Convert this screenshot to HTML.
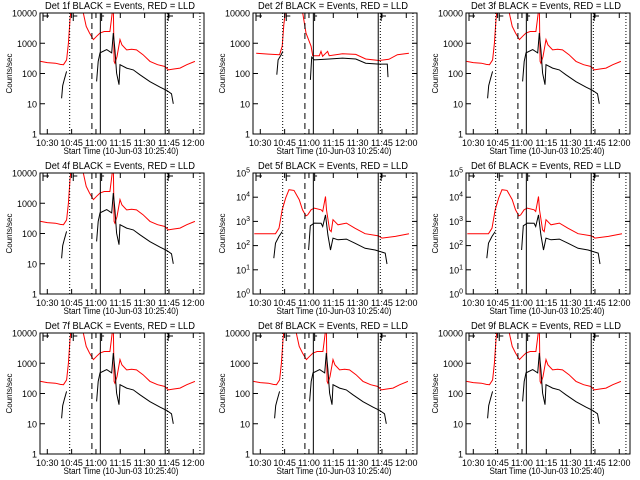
<!DOCTYPE html>
<html><head><meta charset="utf-8">
<style>
html,body{margin:0;padding:0;background:#fff;}
svg{display:block;font-family:"Liberation Sans",sans-serif;}
</style></head>
<body>
<svg id="chart" width="640" height="480" viewBox="0 0 640 480"></svg>
<script>
// time in minutes after 10:00, values are log10(counts/sec); null = gap
const xTickLabels = ["10:30","10:45","11:00","11:15","11:30","11:45","12:00"];
const xTickMinutes = [30,45,60,75,90,105,120];
const markerDotted = [43.8,104,124.1];
const markerDashed = [57.5];
const markerSolid = [62.7,102.7];
const panelTitles = ["Det 1f","Det 2f","Det 3f","Det 4f","Det 5f","Det 6f","Det 7f","Det 8f","Det 9f"];
const panelDecades = [4,4,4,4,5,5,4,4,4];

const redTimesA = [25.9,30,35,38,40,41.9,43,44,45,50,52.2,54,56,58.4,60.4,62.5,65,68.6,69.5,70.7,71.2,71.7,73,74.8,76,78.9,82,85,89,93.3,98,102.5,104.6,108,111.8,116,121];
const redValsA  = [2.40,2.36,2.34,2.3,2.29,2.45,3.0,3.78,4.3,4.5,4.0,3.56,3.34,3.12,3.23,3.34,3.39,3.39,3.78,4.3,2.4,2.34,2.56,3.12,2.95,2.78,2.8,2.78,2.62,2.4,2.29,2.23,2.12,2.15,2.18,2.29,2.40];
const blackTimesA = [38.8,39.5,40.5,41.9,42,60.4,61.4,62.5,66.6,69.7,70.7,71.7,72.7,74.2,74.8,78.9,83,87,93.3,99.4,103.6,106.6,107.7];
const blackValsA  = [1.18,1.6,1.8,2.07,null,1.74,2.40,2.68,2.79,2.68,3.34,2.79,2.01,1.63,2.29,2.18,2.12,1.96,1.73,1.55,1.44,1.33,1.0];

const redTimesB = [27.5,35,41.9,43.5,44.5,46,55.2,58.2,61.3,62.3,66.4,67.4,68.4,71.5,72.5,80.7,88.9,95,103.2,109.3,114.5,121.6];
const redValsB  = [2.67,2.64,2.62,2.9,3.6,4.3,4.3,3.34,2.9,2.59,2.59,2.73,2.57,2.73,2.59,2.65,2.63,2.48,2.43,2.47,2.62,2.67];
const blackTimesB = [40.2,41,42.9,43.9,44,60.9,61.7,63.3,72.5,80.7,88.9,95,103.2,108.3,108.7];
const blackValsB  = [1.96,2.45,2.62,2.73,null,1.79,2.54,2.45,2.48,2.51,2.48,2.34,2.31,2.31,1.88];

const redTimesC = [26.3,39.4,41.5,43.5,45.6,47.7,50.8,54,56,58.1,59.2,61.3,63.3,67.5,68.5,70.2,70.8,72.7,73.7,74.8,77.9,83.1,88.3,94.6,102.9,105,113.3,121.7];
const redValsC  = [2.49,2.49,2.72,3.48,3.96,4.31,4.28,3.9,3.48,3.23,3.27,3.48,3.55,3.48,3.41,4.03,3.48,2.65,2.58,3.07,2.86,2.93,2.72,2.49,2.4,2.31,2.38,2.49];
const blackTimesC = [38.3,39.4,41.5,43.5,43.6,59.8,60.8,63.3,67.5,68.5,70.2,71.7,73.3,74.8,77.9,83.1,88.3,94.6,100.8,107,108.1];
const blackValsC  = [1.48,2.1,2.38,2.58,null,1.82,2.82,2.93,2.92,2.79,3.27,2.44,1.82,2.31,2.24,2.27,2.1,1.89,1.82,1.69,1.24];

const panelRed = [[redTimesA,redValsA],[redTimesB,redValsB],[redTimesA,redValsA],[redTimesA,redValsA],[redTimesC,redValsC],[redTimesC,redValsC],[redTimesA,redValsA],[redTimesA,redValsA],[redTimesA,redValsA]];
const panelBlack = [[blackTimesA,blackValsA],[blackTimesB,blackValsB],[blackTimesA,blackValsA],[blackTimesA,blackValsA],[blackTimesC,blackValsC],[blackTimesC,blackValsC],[blackTimesA,blackValsA],[blackTimesA,blackValsA],[blackTimesA,blackValsA]];

const NS="http://www.w3.org/2000/svg";
const svg=document.getElementById('chart');
function mk(tag,attrs,parent){const e=document.createElementNS(NS,tag);for(const k in attrs)e.setAttribute(k,attrs[k]);(parent||svg).appendChild(e);return e;}

const L=40,R=204,T=13,B=134;
for(let p=0;p<9;p++){
  const ox=[0,213,426][p%3], oy=Math.floor(p/3)*160;
  const dec=panelDecades[p];
  const g=mk('g',{transform:`translate(${ox},${oy})`});
  
  
  const xs=m=>47.3+(m-30)*1.622;
  const ys=v=>B-(v/dec)*(B-T);
  const clip='clip'+p;
  const cp=mk('clipPath',{id:clip},g); mk('rect',{x:L,y:T,width:R-L,height:B-T},cp);
  function series(tv,color,name){
    const [ts,vs]=tv;let d='';let pen=false;
    for(let i=0;i<ts.length;i++){
      if(vs[i]===null){pen=false;continue;}
      d+=(pen?'L':'M')+xs(ts[i]).toFixed(1)+','+ys(vs[i]).toFixed(1);pen=true;
    }
    const path=mk('path',{d:d,fill:'none',stroke:color,'stroke-width':1,'clip-path':`url(#${clip})`},g);
    
    
  }
  series(panelRed[p],'#ff0000','lld-series');
  series(panelBlack[p],'#000','events-series');
  markerDotted.forEach(m=>{const l=mk('line',{x1:xs(m),x2:xs(m),y1:T,y2:B,stroke:'#000','stroke-dasharray':'1,2'},g);});
  markerDashed.forEach(m=>{const l=mk('line',{x1:xs(m),x2:xs(m),y1:T,y2:B,stroke:'#000','stroke-dasharray':'6,4'},g);});
  markerSolid.forEach(m=>{const l=mk('line',{x1:xs(m),x2:xs(m),y1:T,y2:B,stroke:'#000'},g);});
  [[43,49],[xs(46),xs(48.5)],[xs(63.5),xs(65)],[xs(104.5),xs(107.5)]].forEach(b=>{
    mk('path',{d:`M${b[1]},${T+3}H${b[0]}V${T+8}M${b[0]},${T+3}V${T}`,fill:'none',stroke:'#000'},g);
  });
  const fr=mk('rect',{x:L,y:T,width:R-L,height:B-T,fill:'none',stroke:'#000'},g);
  
  for(let k=0;k<=dec;k++){
    const y=ys(k);
    mk('line',{x1:L,x2:L+5,y1:y,y2:y,stroke:'#000'},g);
    mk('line',{x1:R-5,x2:R,y1:y,y2:y,stroke:'#000'},g);
    const t=mk('text',{x:L-3,y:y+3.5,'font-size':9,'text-anchor':'end'},g);
    
    if(dec===4){t.textContent=String(Math.pow(10,k));}
    else{t.textContent='10';const s=mk('tspan',{dy:-4,'font-size':7},t);s.textContent=String(k);}
  }
  xTickMinutes.forEach((m,i)=>{
    const x=xs(m);
    mk('line',{x1:x,x2:x,y1:B,y2:B-5,stroke:'#000'},g);
    mk('line',{x1:x,x2:x,y1:T,y2:T+5,stroke:'#000'},g);
    const t=mk('text',{x:x,y:B+12,'font-size':9,'text-anchor':'middle'},g);
    
    t.textContent=xTickLabels[i];
  });
  const xt=mk('text',{x:121,y:B+20,'font-size':9,'text-anchor':'middle',textLength:115,lengthAdjust:'spacingAndGlyphs'},g);
  
  xt.textContent='Start Time (10-Jun-03 10:25:40)';
  const yt=mk('text',{x:0,y:0,'font-size':8,'text-anchor':'middle',transform:`translate(12,${(T+B)/2}) rotate(-90)`},g);
  
  yt.textContent='Counts/sec';
  const tt=mk('text',{x:120,y:9,'font-size':10,'text-anchor':'middle',textLength:150,lengthAdjust:'spacingAndGlyphs'},g);
  
  tt.textContent=panelTitles[p]+' BLACK = Events, RED = LLD';
}
</script>
</body></html>
